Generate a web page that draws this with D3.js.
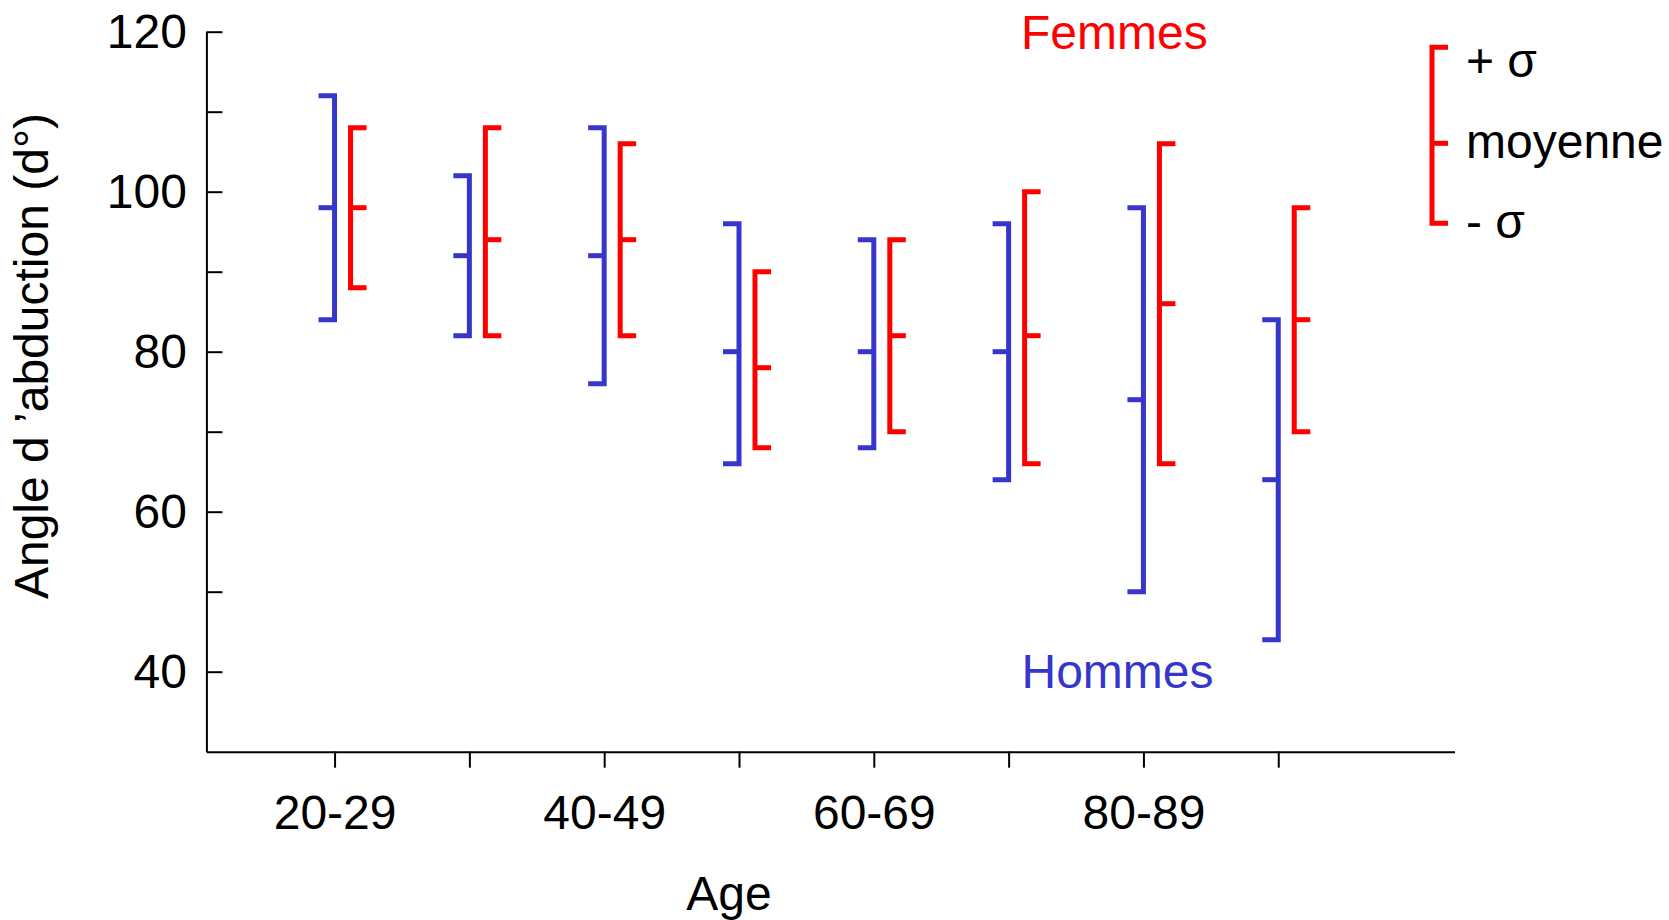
<!DOCTYPE html>
<html>
<head>
<meta charset="utf-8">
<script src="https://cdn.jsdelivr.net/npm/d3@7"></script>
<style>
  html, body { margin: 0; padding: 0; background: #fff; }
  svg { display: block; font-family: "Liberation Sans", Arial, Helvetica, sans-serif; }
</style>
</head>
<body>
<svg id="chart" width="1669" height="920"></svg>
<script>
// Age groups on the x axis
const ageGroups = ["20-29", "30-39", "40-49", "50-59", "60-69", "70-79", "80-89", "90-99"];
const labelledGroups = ["20-29", "40-49", "60-69", "80-89"];

// Shoulder abduction angle (degrees): mean and mean ± σ
const hommesMoyenne = [98, 92, 92, 80, 80, 80, 74, 64];
const hommesPlus    = [112, 102, 108, 96, 94, 96, 98, 84];
const hommesMoins   = [84, 82, 76, 66, 68, 64, 50, 44];

const femmesMoyenne = [98, 94, 94, 78, 82, 82, 86, 84];
const femmesPlus    = [108, 108, 106, 90, 94, 100, 106, 98];
const femmesMoins   = [88, 82, 82, 68, 70, 66, 66, 70];

// Axis ticks
const yTicks = [40, 50, 60, 70, 80, 90, 100, 110, 120];
const yTickLabels = [40, 60, 80, 100, 120];

const BLUE = "#3636CC";
const RED = "#FF0000";
const FONT = 48;

const svg = d3.select("#chart");
svg.append("rect").attr("width", 1669).attr("height", 920).attr("fill", "#fff");

const y = d3.scaleLinear().domain([30, 120]).range([751.7, 31.7]);
const x = d3.scalePoint().domain(ageGroups).range([206.4, 1454.5]).padding(1.129).align(0.421);

// Y axis: ticks pointing inward, labels every 20°
const yAxis = svg.append("g")
  .attr("transform", `translate(${x.range()[0]},0)`)
  .call(d3.axisLeft(y)
    .tickValues(yTicks)
    .tickSize(-16)
    .tickSizeOuter(0)
    .tickPadding(19.5)
    .tickFormat(d => yTickLabels.includes(d) ? d : ""));

// X axis: ticks pointing outward
const xAxis = svg.append("g")
  .attr("transform", `translate(0,${y(30)})`)
  .call(d3.axisBottom(x)
    .tickSize(16)
    .tickSizeOuter(0)
    .tickPadding(27.5)
    .tickFormat(d => labelledGroups.includes(d) ? d : ""));

[yAxis, xAxis].forEach(g => {
  g.attr("font-size", FONT).attr("font-family", null);
  g.select(".domain").attr("stroke", "#000").attr("stroke-width", 2);
  g.selectAll(".tick line").attr("stroke", "#000").attr("stroke-width", 2);
  g.selectAll(".tick text").attr("fill", "#000");
});

// Axis titles
svg.append("text")
  .attr("transform", "translate(48.3,356) rotate(-90)")
  .attr("text-anchor", "middle")
  .attr("font-size", FONT)
  .text("Angle d \u2019abduction (d°)");

svg.append("text")
  .attr("x", 729).attr("y", 910)
  .attr("text-anchor", "middle")
  .attr("font-size", FONT)
  .text("Age");

// Mean ± σ brackets: men open to the left, women open to the right
const CAP = 16;
const GAP = 16;

function bracketPath(cx, hi, lo, dir) {
  const p = d3.path();
  p.moveTo(cx + dir * CAP, y(hi));
  p.lineTo(cx, y(hi));
  p.lineTo(cx, y(lo));
  p.lineTo(cx + dir * CAP, y(lo));
  return p.toString();
}

function meanPath(cx, m, dir) {
  const p = d3.path();
  p.moveTo(cx, y(m));
  p.lineTo(cx + dir * CAP, y(m));
  return p.toString();
}

const series = [
  { name: "Hommes", color: BLUE, mean: hommesMoyenne, hi: hommesPlus, lo: hommesMoins, offset: 0, dir: -1 },
  { name: "Femmes", color: RED, mean: femmesMoyenne, hi: femmesPlus, lo: femmesMoins, offset: GAP, dir: 1 }
];

series.forEach(s => {
  const g = svg.append("g")
    .attr("fill", "none")
    .attr("stroke", s.color)
    .attr("stroke-width", 5)
    .attr("stroke-linejoin", "miter");
  const rows = ageGroups.map((a, i) => ({ a, m: s.mean[i], hi: s.hi[i], lo: s.lo[i] }));
  g.selectAll("path.range").data(rows).join("path")
    .attr("class", "range")
    .attr("d", d => bracketPath(x(d.a) + s.offset, d.hi, d.lo, s.dir));
  g.selectAll("path.mean").data(rows).join("path")
    .attr("class", "mean")
    .attr("d", d => meanPath(x(d.a) + s.offset, d.m, s.dir));
});

// Series labels
svg.append("text")
  .attr("x", 1021).attr("y", 49.3)
  .attr("font-size", FONT).attr("fill", RED)
  .text("Femmes");
svg.append("text")
  .attr("x", 1021.5).attr("y", 688.3)
  .attr("font-size", FONT).attr("fill", BLUE)
  .text("Hommes");

// Key: what the bracket marks mean
const key = svg.append("g");
const kp = d3.path();
kp.moveTo(1448, 47.3); kp.lineTo(1432, 47.3); kp.lineTo(1432, 223.3); kp.lineTo(1448, 223.3);
key.append("path").attr("d", kp.toString())
  .attr("fill", "none").attr("stroke", RED).attr("stroke-width", 5);
key.append("path").attr("d", "M1432,143.3H1448")
  .attr("fill", "none").attr("stroke", RED).attr("stroke-width", 5);

const keyLabels = [
  { t: "+ σ", yb: 76.7 },
  { t: "moyenne", yb: 158.3 },
  { t: "- σ", yb: 238 }
];
key.selectAll("text").data(keyLabels).join("text")
  .attr("x", 1466).attr("y", d => d.yb)
  .attr("font-size", FONT).attr("fill", "#000")
  .text(d => d.t);
</script>
</body>
</html>
